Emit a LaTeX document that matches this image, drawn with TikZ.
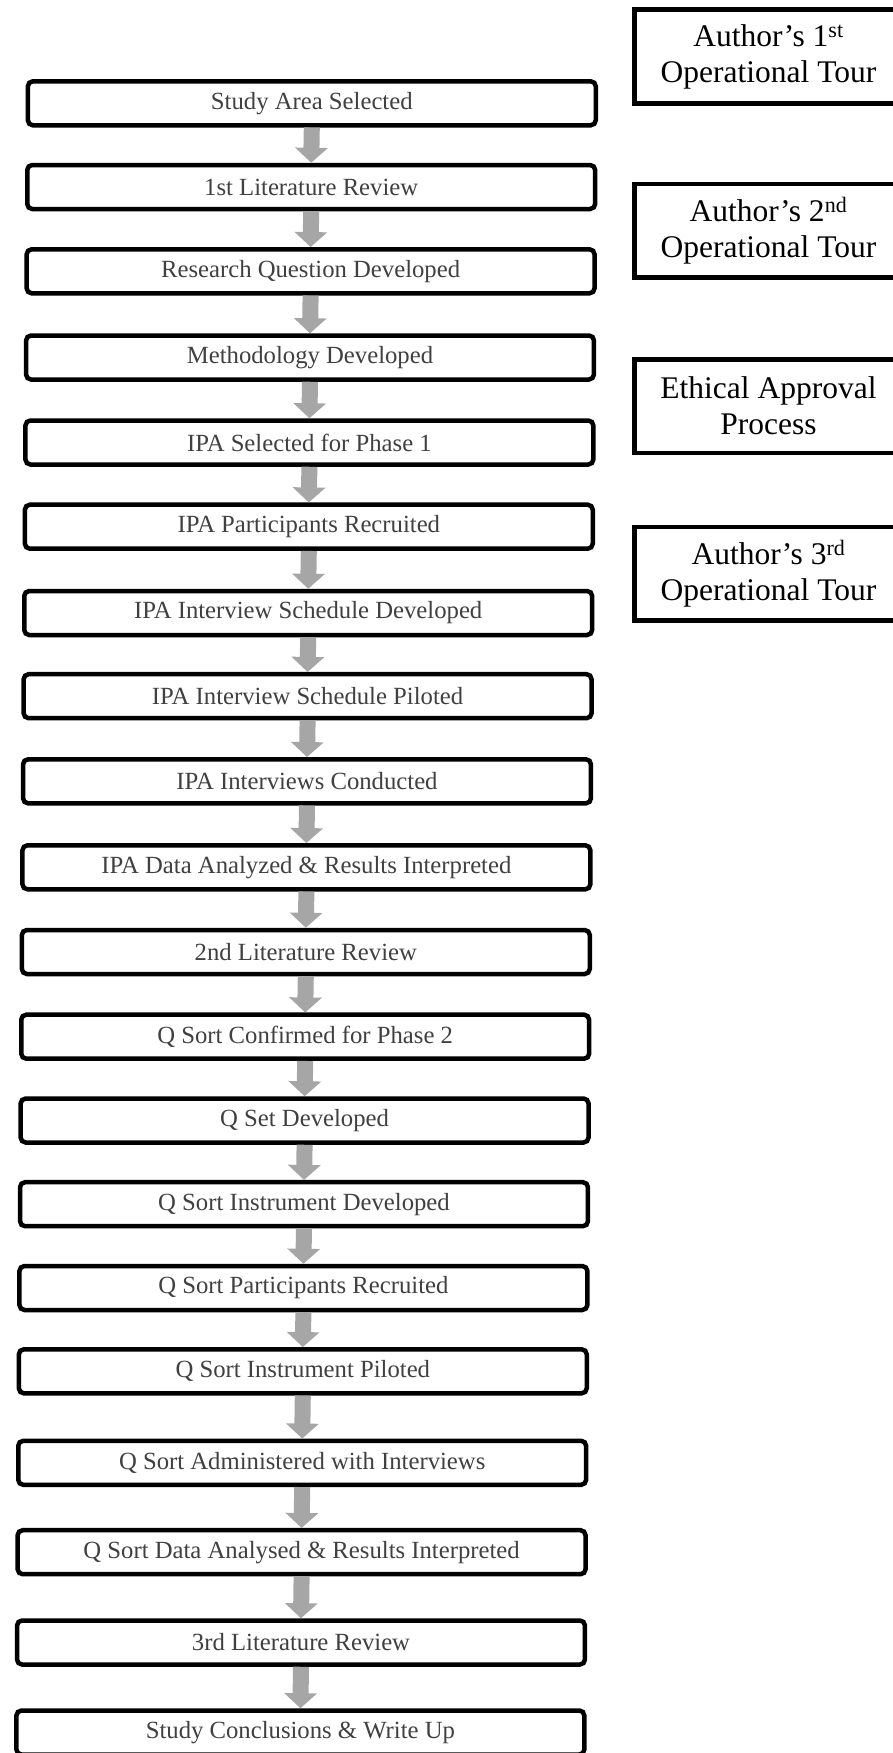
\documentclass[tikz,border=0pt]{standalone}
\usepackage{fontspec}
\setmainfont{Liberation Serif}
\usetikzlibrary{arrows.meta}
\definecolor{arrowgray}{RGB}{166,166,166}
\definecolor{txtgray}{RGB}{64,64,64}
\begin{document}
\begin{tikzpicture}[x=1pt,y=-1pt,
  stepbox/.style={draw=black, line width=4.5pt, rounded corners=5pt, minimum width=567.9pt, minimum height=44pt, inner sep=0pt, fill=white, text=txtgray, font=\fontsize{24.7}{28}\selectfont},
  tourbox/.style={draw=black, line width=4.5pt, minimum width=268.5pt, minimum height=93.5pt, inner sep=0pt, fill=white, align=center, font=\fontsize{31.5}{36}\selectfont},
  flow/.style={draw=arrowgray, line width=16pt, -{Triangle[width=32pt,length=15pt]}}
]
\useasboundingbox (0,0) rectangle (893,1753);
\fill[white] (0,0) rectangle (893,1753);
\clip (0,0) rectangle (893,1753);

% main flow
\node[stepbox] (b1)  at (311.8,103.3)  {Study Area Selected};
\node[stepbox] (b2)  at (311.2,187.0)  {1st Literature Review};
\node[stepbox] (b3)  at (310.6,271.3)  {Research Question Developed};
\node[stepbox] (b4)  at (310.0,357.5)  {Methodology Developed};
\node[stepbox] (b5)  at (309.4,442.5)  {IPA Selected for Phase 1};
\node[stepbox] (b6)  at (308.8,526.7)  {IPA Participants Recruited};
\node[stepbox] (b7)  at (308.2,613.0)  {IPA Interview Schedule Developed};
\node[stepbox] (b8)  at (307.6,696.2)  {IPA Interview Schedule Piloted};
\node[stepbox] (b9)  at (307.0,781.3)  {IPA Interviews Conducted};
\node[stepbox] (b10) at (306.4,867.3)  {IPA Data Analyzed \& Results Interpreted};
\node[stepbox] (b11) at (305.8,952.0)  {2nd Literature Review};
\node[stepbox] (b12) at (305.2,1036.7) {Q Sort Confirmed for Phase 2};
\node[stepbox] (b13) at (304.6,1120.5) {Q Set Developed};
\node[stepbox] (b14) at (304.0,1204.2) {Q Sort Instrument Developed};
\node[stepbox] (b15) at (303.4,1288.0) {Q Sort Participants Recruited};
\node[stepbox] (b16) at (302.8,1371.3) {Q Sort Instrument Piloted};
\node[stepbox] (b17) at (302.2,1462.8) {Q Sort Administered with Interviews};
\node[stepbox] (b18) at (301.6,1552.2) {Q Sort Data Analysed \& Results Interpreted};
\node[stepbox] (b19) at (301.0,1642.5) {3rd Literature Review};
\node[stepbox] (b20) at (300.4,1732.5) {Study Conclusions \& Write Up};

\foreach \a/\b in {b1/b2,b2/b3,b3/b4,b4/b5,b5/b6,b6/b7,b7/b8,b8/b9,b9/b10,b10/b11,b11/b12,b12/b13,b13/b14,b14/b15,b15/b16,b16/b17,b17/b18,b18/b19,b19/b20}
  \draw[flow] (\a.south) -- (\b.north);

% side boxes
\node[tourbox] (r1) at (768.5,56.5)  {Author’s 1\textsuperscript{st}\\Operational Tour};
\node[tourbox] (r2) at (768.5,230.5) {Author’s 2\textsuperscript{nd}\\Operational Tour};
\node[tourbox] (r3) at (768.5,406.0) {Ethical Approval\\Process};
\node[tourbox] (r4) at (768.5,573.5) {Author’s 3\textsuperscript{rd}\\Operational Tour};
\end{tikzpicture}
\end{document}
